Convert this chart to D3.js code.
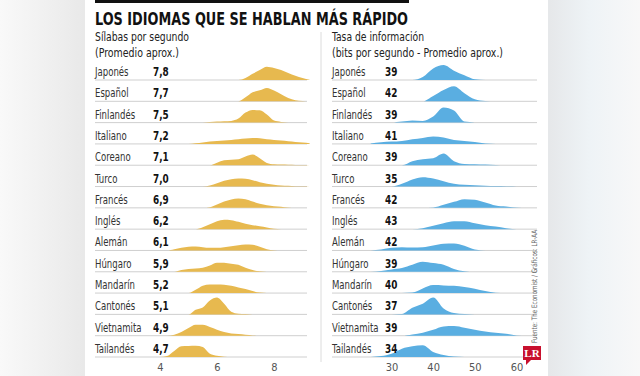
<!DOCTYPE html>
<html>
<head>
<meta charset="utf-8">
<script src="https://cdn.jsdelivr.net/npm/d3@7"></script>
<style>
  body { margin: 0; background: #fff; }
  svg { display: block; }
  text { font-family: "DejaVu Sans Condensed", "DejaVu Sans", sans-serif; }
</style>
</head>
<body>
<script>
// languages, top to bottom
var languages = ["Japonés", "Español", "Finlandés", "Italiano", "Coreano", "Turco", "Francés",
  "Inglés", "Alemán", "Húngaro", "Mandarín", "Cantonés", "Vietnamita", "Tailandés"];

// averages
var syllableRate = [7.8, 7.7, 7.5, 7.2, 7.1, 7.0, 6.9, 6.2, 6.1, 5.9, 5.2, 5.1, 4.9, 4.7];
var infoRate = [39, 42, 39, 41, 39, 35, 42, 43, 42, 39, 40, 37, 39, 34];

// sample positions of the density curves
var syllableGrid = [4.0, 4.25, 4.5, 4.75, 5.0, 5.25, 5.5, 5.75, 6.0, 6.25, 6.5, 6.75,
  7.0, 7.25, 7.5, 7.75, 8.0, 8.25, 8.5, 8.75, 9.0, 9.25];
var infoGrid = [25, 27.5, 30, 32.5, 35, 37.5, 40, 42.5, 45, 47.5, 50, 52.5, 55, 57.5, 60, 62.5, 65];

// density (relative), one list per language
var syllableDensity = [
  [0,0,0,0,0,0,0,0,0,0,0,0,2,6.3,10,13.3,12,10,7,4.3,2,0.3],
  [0,0,0,0,0,0,0,0,0,0,0,0,4,9,11,13.3,10.7,7,3.3,1,0.3,0],
  [0,0,0,0,0,0,0,0.5,1,1.3,1.7,4,10,12.7,12.3,8,2,0.7,0.2,0,0,0],
  [0,0,0,0,0,0.7,1.5,2.3,3,3.5,4,4.7,5.3,6,5.7,4.7,4,3.3,2.7,2,1.3,0.7],
  [0,0,0,0,0,0,0,0,2.5,5,5.5,6,8.7,10.7,7,2.3,1,0.7,0.5,0.3,0.2,0.1],
  [0,0,0,0,0,0,0,1,3.3,5.7,7.3,8,7.7,6.3,4.3,2.7,1.7,1,0.7,0.4,0.2,0],
  [0,0,0,0,0,0,0,0.7,3.3,6.3,8.3,9.3,8.7,6.3,4,2.7,1.7,1,0.3,0,0,0],
  [0,0,0,0,0,0,2,5,8,9.3,9,7.3,5.3,4,3,1.7,0.3,0,0,0,0,0],
  [0,0,1.3,2.7,3.7,4,3.3,2.7,2.7,3.3,4.3,5.3,6,5.7,3.7,1.3,0.3,0,0,0,0,0],
  [0,0,0,1.7,2.7,3.3,4,6.3,9,9,8,7,4,1.7,0.5,0,0,0,0,0,0,0],
  [0,0,0,0,0,3.3,7.3,8.7,8.7,8.3,7.3,5.7,4,2,0.5,0,0,0,0,0,0,0],
  [0,0,0,0,0,4.7,7,14,17,10.7,2.7,0.7,0.3,0,0,0,0,0,0,0,0,0],
  [0,0,1,3.7,7.7,11,11,8.7,6,3.7,2.3,1.7,1,0.3,0,0,0,0,0,0,0,0],
  [0,1,6,10.7,11,11.3,10,3.3,1.3,0.3,0,0,0,0,0,0,0,0,0,0,0,0]
];
var infoDensity = [
  [0,0,0,0,0,3,11.5,15,9.3,4.7,0.7,0,0,0,0,0,0],
  [0,0,0,0,0,0,5.3,11.3,15,8,2,0.3,0,0,0,0,0],
  [0,0,0,1,2,1.7,6,15,12,1,0.2,0,0,0,0,0,0],
  [0.3,1.7,2.3,3,4.7,6,7.3,6.3,4,3,2,0.5,0,0,0,0,0],
  [0,0,0,0,4,6,7,11.7,4,1.3,1,0.7,0.3,0,0,0,0],
  [0,0,0,2.7,7,9.3,8,5.3,2.7,1.7,1.3,0.8,0.5,0.3,0.1,0,0],
  [0,0,0,0,0,0,0.3,3,6,8.7,8,5.3,2.3,1.3,0.3,0,0],
  [0,0,0,0,0,1,3.3,6,8,8,6,4,2.7,1,0,0,0],
  [0,1,2.7,3.3,3,3.3,5,6.7,7,4.7,1,0,0,0,0,0,0],
  [0,0.7,2.3,3.7,7,10,8.7,7,2.7,0.5,0,0,0,0,0,0,0],
  [0,0,0,0,0.5,4.7,8,7.7,7.3,6,4.3,2,0.3,0,0,0,0],
  [0,0,0,0.5,6.7,10.7,17,6,1.3,0.3,0,0,0,0,0,0,0],
  [0,0,0,0,1.3,3,6,9.3,9.7,8,6,4.3,3,2,0.3,0,0],
  [0,1,3.3,8.3,10.7,11.7,5,2,0.5,0.1,0,0,0,0,0,0,0]
];

var syllableTicks = [4, 6, 8];
var infoTicks = [30, 40, 50, 60];

var width = 640, height = 376;
var gold = "#e7b94f", blue = "#5aaee1";
var narrow = 0.76; // horizontal squeeze to get a condensed look

var svg = d3.select("body").append("svg")
  .attr("width", width)
  .attr("height", height);

// page background with grey borders
var defs = svg.append("defs");
var grad = defs.append("linearGradient").attr("id", "bg");
grad.append("stop").attr("offset", "0").attr("stop-color", "#f9f9f9");
grad.append("stop").attr("offset", "0.13").attr("stop-color", "#e9e9e9");
grad.append("stop").attr("offset", "0.86").attr("stop-color", "#e6e8ea");
grad.append("stop").attr("offset", "0.92").attr("stop-color", "#eef3f6");
grad.append("stop").attr("offset", "1").attr("stop-color", "#f8f8f8");
svg.append("rect").attr("width", width).attr("height", height).attr("fill", "url(#bg)");
svg.append("rect").attr("x", 85).attr("width", 463).attr("height", height).attr("fill", "#fff");

// top black bar + title
svg.append("rect").attr("x", 95).attr("y", 0).attr("width", 314).attr("height", 3).attr("fill", "#111");
svg.append("text")
  .attr("x", 95).attr("y", 25)
  .attr("font-size", 17).attr("font-weight", "bold").attr("fill", "#111")
  .attr("textLength", 313).attr("lengthAdjust", "spacingAndGlyphs")
  .text("LOS IDIOMAS QUE SE HABLAN MÁS RÁPIDO");

// scales
var row = d3.scalePoint().domain(languages).range([80, 357]);
var xL = d3.scaleLinear().domain([4, 8]).range([160, 274]);
var xR = d3.scaleLinear().domain([30, 60]).range([391.5, 516.5]);
var h = d3.scaleLinear().domain([0, 10]).range([0, 10]);

// divider between panels
svg.append("line")
  .attr("x1", 321).attr("x2", 321).attr("y1", 32).attr("y2", 362)
  .attr("stroke", "#dcdcdc");

function panel(opt) {
  var g = svg.append("g");

  g.append("text").attr("x", opt.x0).attr("y", 41)
    .attr("font-size", 13).attr("fill", "#222")
    .attr("textLength", opt.sub1Len).attr("lengthAdjust", "spacingAndGlyphs")
    .text(opt.sub1);
  g.append("text").attr("x", opt.x0).attr("y", 57)
    .attr("font-size", 13).attr("fill", "#222")
    .attr("textLength", opt.sub2Len).attr("lengthAdjust", "spacingAndGlyphs")
    .text(opt.sub2);

  var area = d3.area()
    .x(function(d, i) { return opt.x(opt.grid[i]); })
    .y0(0)
    .y1(function(d) { return -h(d); })
    .curve(d3.curveMonotoneX);

  var rows = g.selectAll(".row")
    .data(languages)
    .enter().append("g")
    .attr("class", "row")
    .attr("transform", function(d) { return "translate(0," + row(d) + ")"; });

  rows.append("line")
    .attr("x1", opt.x0).attr("x2", opt.x1)
    .attr("stroke", "#cfcfcf").attr("stroke-width", 1);

  rows.append("path")
    .attr("d", function(d, i) { return area(opt.density[i]); })
    .attr("fill", opt.color);

  rows.append("text")
    .attr("transform", "translate(" + opt.x0 + ",-4) scale(" + narrow + ",1)")
    .attr("font-size", 12.5).attr("fill", "#333")
    .text(function(d) { return d; });

  rows.append("text")
    .attr("transform", "translate(" + opt.xv + ",-4) scale(" + narrow + ",1)")
    .attr("font-size", 13).attr("font-weight", "bold").attr("fill", "#111")
    .text(function(d, i) { return opt.fmt(opt.values[i]); });

  var axis = d3.axisBottom(opt.x).tickValues(opt.ticks).tickFormat(d3.format("d"))
    .tickSize(0).tickPadding(0);
  var ax = g.append("g").attr("transform", "translate(0,363)").call(axis);
  ax.select(".domain").remove();
  ax.selectAll("text")
    .attr("dy", "0.71em")
    .style("font-family", "\"DejaVu Sans Condensed\", sans-serif")
    .style("font-size", "11px")
    .attr("fill", "#555");
}

panel({
  x0: 95, x1: 307, xv: 153, x: xL, grid: syllableGrid, density: syllableDensity,
  values: syllableRate, color: gold, ticks: syllableTicks,
  fmt: function(v) { return d3.format(".1f")(v).replace(".", ","); },
  sub1: "Sílabas por segundo", sub1Len: 94,
  sub2: "(Promedio aprox.)", sub2Len: 84
});

panel({
  x0: 332, x1: 537, xv: 385, x: xR, grid: infoGrid, density: infoDensity,
  values: infoRate, color: blue, ticks: infoTicks,
  fmt: function(v) { return String(v); },
  sub1: "Tasa de información", sub1Len: 92,
  sub2: "(bits por segundo - Promedio aprox.)", sub2Len: 171
});

// source, rotated
svg.append("text")
  .attr("transform", "translate(537,343) rotate(-90)")
  .attr("font-size", 7.5).attr("fill", "#666")
  .attr("textLength", 113).attr("lengthAdjust", "spacingAndGlyphs")
  .text("Fuente: The Economist / Gráficos: LR-AA");

// LR logo
var logo = svg.append("g").attr("transform", "translate(523,346)");
logo.append("rect").attr("width", 18).attr("height", 14).attr("fill", "#c8102e");
logo.append("path").attr("d", "M3,14 L3,19 L8,14 Z").attr("fill", "#c8102e");
logo.append("text").attr("x", 9).attr("y", 11)
  .attr("text-anchor", "middle")
  .style("font-family", "\"Liberation Serif\", \"DejaVu Serif\", serif")
  .attr("font-size", 11).attr("font-weight", "bold").attr("fill", "#fff")
  .text("LR");
</script>
</body>
</html>
